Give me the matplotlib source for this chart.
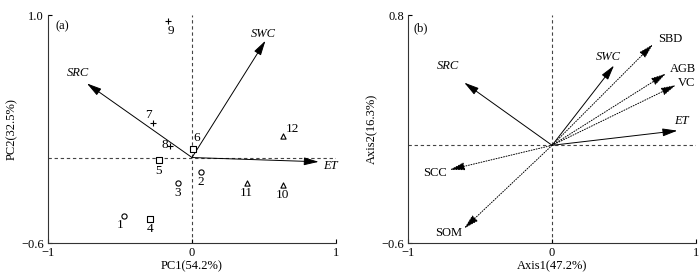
import matplotlib

matplotlib.use("Agg")
import matplotlib.pyplot as plt

plt.rcParams["font.family"] = ["Liberation Serif", "DejaVu Serif"]
plt.rcParams["font.size"] = 9

# ---- panel (a): PCA sample scores ----
site_ids = ["1", "2", "3", "4", "5", "6", "7", "8", "9", "10", "11", "12"]
site_pc1 = [-0.47, 0.06, -0.10, -0.29, -0.23, 0.01, -0.27, -0.15, -0.17, 0.63, 0.38, 0.63]
site_pc2 = [-0.41, -0.10, -0.18, -0.43, -0.02, 0.06, 0.24, 0.08, 0.96, -0.19, -0.18, 0.15]
site_marker = ["o", "o", "o", "s", "s", "s", "+", "+", "+", "^", "^", "^"]

vars_a = ["SRC", "SWC", "ET"]
vars_a_pc1 = [-0.73, 0.51, 0.88]
vars_a_pc2 = [0.52, 0.82, -0.03]

# ---- panel (b): RDA loadings ----
vars_b = ["SRC", "SWC", "ET", "SBD", "AGB", "VC", "SCC", "SOM"]
vars_b_ax1 = [-0.61, 0.43, 0.87, 0.70, 0.79, 0.86, -0.71, -0.61]
vars_b_ax2 = [0.385, 0.49, 0.09, 0.62, 0.44, 0.37, -0.15, -0.51]
vars_b_explanatory = [False, False, False, True, True, True, True, True]

# label placement (offsets in pixels for sites, data coords for vectors)
site_offsets = {"1": (-4, -9), "2": (0, -10), "3": (0, -10), "4": (0, -10),
                "5": (0, -11), "6": (3, 11), "7": (-5, 8), "8": (-6, 1),
                "9": (3, -10), "10": (0, -10), "11": (0, -10), "12": (10, 7)}
label_pos_a = {"SRC": (-0.79, 0.59, "center"), "SWC": (0.495, 0.87, "center"),
               "ET": (0.96, -0.06, "center")}
label_pos_b = {"SRC": (-0.72, 0.49, "center"), "SWC": (0.39, 0.54, "center"),
               "ET": (0.90, 0.15, "center"), "SBD": (0.735, 0.65, "left"),
               "AGB": (0.82, 0.47, "left"), "VC": (0.875, 0.38, "left"),
               "SCC": (-0.81, -0.17, "center"), "SOM": (-0.72, -0.54, "center")}


def style_axes(ax, ylo, yhi):
    ax.set_xlim(-1, 1)
    ax.set_ylim(ylo, yhi)
    for side in ("top", "right"):
        ax.spines[side].set_visible(False)
    for side in ("left", "bottom"):
        ax.spines[side].set_linewidth(0.8)
        ax.spines[side].set_color("#333333")
    ax.set_xticks([-1, 0, 1])
    ax.set_xticklabels(["\u22121", "0", "1"])
    ax.set_yticks([ylo, yhi])
    ax.set_yticklabels([f"{ylo:.1f}".replace("-", "\u2212"), f"{yhi:.1f}"])
    ax.tick_params(direction="in", length=3, width=0.8, labelsize=9)
    ax.tick_params(axis="x", pad=3)
    ax.tick_params(axis="y", pad=3)
    ax.axhline(0, color="#444444", lw=0.8, ls=(0, (3, 2.5)), zorder=1)
    ax.axvline(0, color="#444444", lw=0.8, ls=(0, (3, 2.5)), zorder=1)


def draw_vector(ax, x, y, dotted=False):
    ax.annotate("", xy=(x, y), xytext=(0, 0),
                arrowprops=dict(arrowstyle="-|>,head_width=0.2,head_length=0.75",
                                lw=0.7, color="black", ls=":" if dotted else "-",
                                shrinkA=0, shrinkB=0, mutation_scale=12),
                zorder=3)


fig = plt.figure(figsize=(7, 2.79), dpi=100)
ax_a = fig.add_axes([0.0686, 0.129, 0.4114, 0.817])
ax_b = fig.add_axes([0.583, 0.129, 0.4114, 0.817])

# panel (a)
style_axes(ax_a, -0.6, 1.0)
for sid, x, y, m in zip(site_ids, site_pc1, site_pc2, site_marker):
    if m == "+":
        ax_a.scatter(x, y, marker=m, s=22, color="black", lw=0.8, zorder=4)
    else:
        ax_a.scatter(x, y, marker=m, s=14, facecolor="white", edgecolor="black",
                     lw=0.8, zorder=4)
    dx, dy = site_offsets[sid]
    ax_a.annotate(sid, (x, y), xytext=(dx, dy), textcoords="offset pixels",
                  ha="center", va="center", fontsize=9.5, zorder=5)
for name, x, y in zip(vars_a, vars_a_pc1, vars_a_pc2):
    draw_vector(ax_a, x, y)
    lx, ly, ha = label_pos_a[name]
    ax_a.text(lx, ly, name, style="italic", ha=ha, va="center", fontsize=9)
ax_a.text(-0.95, 0.92, "(a)", ha="left", va="center", fontsize=9)
ax_a.set_xlabel("PC1(54.2%)", fontsize=9, labelpad=1)
ax_a.set_ylabel("PC2(32.5%)", fontsize=9, labelpad=2)

# panel (b)
style_axes(ax_b, -0.6, 0.8)
for name, x, y, expl in zip(vars_b, vars_b_ax1, vars_b_ax2, vars_b_explanatory):
    draw_vector(ax_b, x, y, dotted=expl)
    lx, ly, ha = label_pos_b[name]
    ax_b.text(lx, ly, name, style="normal" if expl else "italic",
              ha=ha, va="center", fontsize=9)
ax_b.text(-0.965, 0.72, "(b)", ha="left", va="center", fontsize=9)
ax_b.set_xlabel("Axis1(47.2%)", fontsize=9, labelpad=1)
ax_b.set_ylabel("Axis2(16.3%)", fontsize=9, labelpad=2)

fig.savefig("out.png", dpi=100)
